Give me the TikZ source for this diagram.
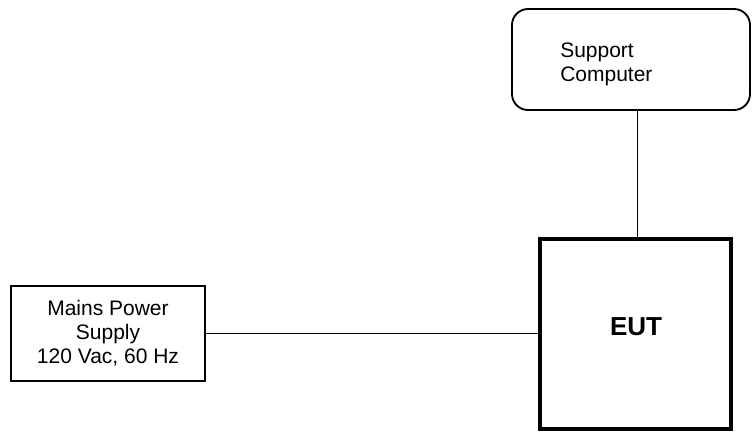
\documentclass[tikz,border=0pt]{standalone}
\usepackage{fontspec}
\setmainfont{Liberation Sans}
\begin{document}
\begin{tikzpicture}[x=0.75pt,y=-0.75pt,
  txt/.style={font=\fontsize{15.75pt}{18pt}\selectfont},
  pcbox/.style={draw, line width=1.4pt, rounded corners=12pt, minimum width=178.5pt, minimum height=75.75pt, inner sep=0pt},
  eutbox/.style={draw, line width=3pt, minimum width=143.25pt, minimum height=142.5pt, inner sep=0pt, font=\fontsize{19.5pt}{22pt}\selectfont\bfseries},
  mainsbox/.style={draw, line width=1.1pt, minimum width=145.5pt, minimum height=71.25pt, inner sep=0pt, align=center, txt},
  wire/.style={line width=0.8pt}]
\useasboundingbox (0,0) rectangle (752,432);
\node[pcbox] (pc) at (631,59.5) {};
\node[txt, anchor=base west, inner sep=0pt] (pc1) at (560,57) {Support};
\node[txt, anchor=base west, inner sep=0pt] (pc2) at (560,81) {Computer};
\node[eutbox] (eut) at (635.5,334) {};
\node[font=\fontsize{19.5pt}{22pt}\selectfont\bfseries, inner sep=0pt] (euttext) at (636,327) {EUT};
\node[mainsbox] (mains) at (108,333.5) {Mains Power\\Supply\\120 Vac, 60 Hz};
\draw[wire] ([xshift=1.5pt]eut.north) -- ([xshift=1.5pt]eut.north |- pc.south);
\draw[wire] (mains.east) -- (mains.east -| eut.west);
\end{tikzpicture}
\end{document}
